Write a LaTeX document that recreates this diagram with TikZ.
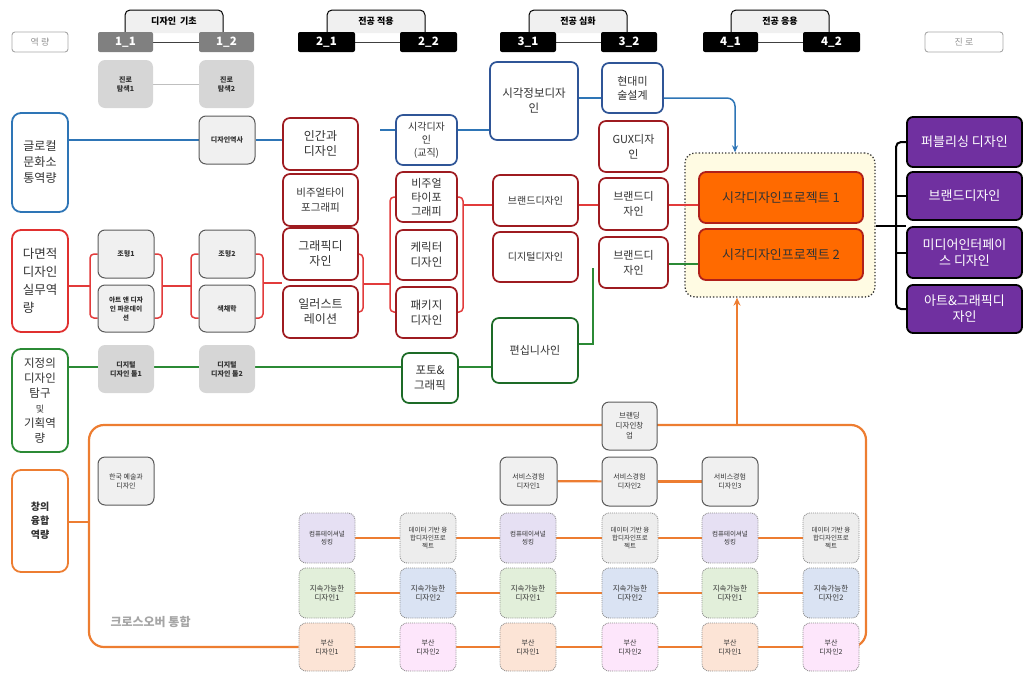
\documentclass[tikz,border=0pt]{standalone}
\usepackage{fontspec}
\setmainfont{Noto Sans CJK KR}
\usetikzlibrary{arrows.meta}
\pgfdeclarelayer{back}
\pgfdeclarelayer{bg}
\pgfsetlayers{back,bg,main}
\definecolor{txt}{HTML}{333333}
\definecolor{gfill}{HTML}{F0F0F0}
\definecolor{gdark}{HTML}{5A5A5A}
\definecolor{gmid}{HTML}{D6D6D6}
\definecolor{dred}{HTML}{9E1B20}
\definecolor{rline}{HTML}{E23B3B}
\definecolor{mred}{HTML}{E0302F}
\definecolor{bline}{HTML}{2E75B6}
\definecolor{dblue}{HTML}{2F5597}
\definecolor{gline}{HTML}{2B8A35}
\definecolor{dgreen}{HTML}{1D6B27}
\definecolor{oline}{HTML}{ED7D31}
\definecolor{projfill}{HTML}{FF6A00}
\definecolor{projdraw}{HTML}{B0201A}
\definecolor{areafill}{HTML}{FFFBE3}
\definecolor{purp}{HTML}{7030A0}
\definecolor{clav}{HTML}{E6E0F3}
\definecolor{cgray}{HTML}{EDEDED}
\definecolor{cgreen}{HTML}{E2EFDA}
\definecolor{cblue}{HTML}{DAE3F3}
\definecolor{cpeach}{HTML}{FCE4D6}
\definecolor{cpink}{HTML}{FDE6FB}
\definecolor{capgray}{HTML}{A6A6A6}
\newcommand\mkbox[7]{\node[#6, minimum width={#4-#2}, minimum height={#5-#3}] (#1) at ({(#2+#4)/2},{(#3+#5)/2}) {#7};}
\newcommand\fs[2]{\fontsize{#1}{#2}\selectfont}
\begin{document}
\begin{tikzpicture}[x=1pt,y=-1pt,
  bx/.style={rectangle, inner sep=0.5pt, align=center, text=txt},
  capbox/.style={bx, draw=capgray, line width=0.9, rounded corners=3, text=capgray!90!black, font=\fs{9}{10}},
  semg/.style={bx, fill=#1, rounded corners=2, text=white, font=\fs{11.5}{12}\bfseries},
  tabs/.style={draw=black, line width=1, fill=gfill, rounded corners=5},
  tabt/.style={font=\fs{9}{11}\bfseries, text=black},
  hdr/.style={draw=black!75, line width=1},
  comp/.style={bx, draw=#1, line width=1.8, fill=white, rounded corners=9, font=\fs{12}{16}},
  sg/.style={bx, fill=gfill, draw=gdark, line width=1, rounded corners=7, font=\fs{7}{9}\bfseries},
  sd/.style={bx, fill=gmid, rounded corners=7, font=\fs{7}{9}\bfseries},
  rb/.style={bx, draw=dred, line width=1.7, fill=white, rounded corners=7, font=\fs{11}{14}},
  bb/.style={rb, draw=dblue},
  gb/.style={rb, draw=dgreen},
  pj/.style={bx, fill=projfill, draw=projdraw, line width=1.8, rounded corners=7, font=\fs{13}{15}, text=black!80},
  pu/.style={bx, fill=purp, draw=black, line width=1.8, rounded corners=6, font=\fs{13}{16}, text=white},
  dg/.style={bx, fill=#1, draw=black!45, densely dotted, line width=0.9, rounded corners=7, font=\fs{6.5}{8.2}},
  og/.style={bx, fill=gfill, draw=gdark, line width=1, rounded corners=7, font=\fs{7}{9}},
  areast/.style={bx, fill=areafill, draw=black!80, dotted, line width=1.3, rounded corners=10},
  rl/.style={draw=rline, line width=1.5},
  bl/.style={draw=bline, line width=1.5},
  gl/.style={draw=gline, line width=1.5},
  ol/.style={draw=oline, line width=2.2},
  kl/.style={draw=black, line width=2}]
\useasboundingbox (0,0) rectangle (1024,672);

% ---------- header ----------
\draw[tabs] (125,33) -- (125,10) -- (223,10) -- (223,33);
\draw[tabs] (327,33) -- (327,10) -- (425,10) -- (425,33);
\draw[tabs] (529,33) -- (529,10) -- (627,10) -- (627,33);
\draw[tabs] (731,33) -- (731,10) -- (829,10) -- (829,33);
\node[tabt] (tabA) at (174,21) {디자인\ \ 기초};
\node[tabt] (tabB) at (376,21) {전공 적용};
\node[tabt] (tabC) at (578,21) {전공 심화};
\node[tabt] (tabD) at (780,21) {전공 응용};
\mkbox{capL}{12}{32}{68}{52}{capbox}{역 량}
\mkbox{capR}{925}{32}{1003}{52}{capbox}{진 로}
\mkbox{s11}{98}{32}{153}{52}{semg=black!50}{1\_1}
\mkbox{s12}{199}{32}{254}{52}{semg=black!50}{1\_2}
\mkbox{s21}{298}{32}{355}{52}{semg=black}{2\_1}
\mkbox{s22}{400}{32}{457}{52}{semg=black}{2\_2}
\mkbox{s31}{500}{32}{556}{52}{semg=black}{3\_1}
\mkbox{s32}{601}{32}{657}{52}{semg=black}{3\_2}
\mkbox{s41}{703}{32}{758}{52}{semg=black}{4\_1}
\mkbox{s42}{803}{32}{860}{52}{semg=black}{4\_2}

% ---------- competencies ----------
\mkbox{glocal}{12}{113}{68}{212}{comp=bline}{글로컬\\문화소\\통역량}
\mkbox{multi}{12}{230}{68}{332}{comp=mred, align=left, font=\fs{12.5}{18}}{다면적\\디자인\\실무역\\량}
\mkbox{explore}{12}{349}{68}{452}{comp=gline, font=\fs{11.5}{15}}{지정의\\디자인\\탐구\\{\fs{9}{15}및}\\기획역\\량}
\mkbox{creative}{12}{470}{68}{572}{comp=oline, font=\fs{10}{14}\bfseries}{창의\\융합\\역량}

% ---------- semester 1 ----------
\mkbox{tam1}{98}{60}{153}{108}{sd}{진로\\탐색1}
\mkbox{tam2}{199}{60}{254}{108}{sd}{진로\\탐색2}
\mkbox{hist}{199}{116}{255}{164}{sg}{디자인역사}
\mkbox{jh1}{98}{230}{154}{278}{sg}{조형1}
\mkbox{art}{98}{285}{154}{332}{sg, font=\fs{6.7}{9}\bfseries}{아트 앤 디자\\인 파운데이\\션}
\mkbox{jh2}{199}{230}{255}{278}{sg}{조형2}
\mkbox{color}{199}{285}{255}{332}{sg}{색채학}
\mkbox{tool1}{98}{345}{154}{393}{sd}{디지털\\디자인 툴1}
\mkbox{tool2}{199}{345}{255}{393}{sd}{디지털\\디자인 툴2}

% ---------- semester 2 ----------
\mkbox{human}{283}{118}{358}{170}{rb, font=\fs{12}{15}}{인간과\\디자인}
\mkbox{vtypo1}{283}{174}{358}{226}{rb, font=\fs{10.5}{15}}{비주얼타이\\포그래피}
\mkbox{graphic}{283}{228}{358}{280}{rb, font=\fs{12}{15}}{그래픽디\\자인}
\mkbox{illust}{283}{286}{358}{338}{rb, font=\fs{12}{15}}{일러스트\\레이션}
\mkbox{vdt}{396}{115}{457}{165}{bb, font=\fs{10}{13}}{시각디자\\인\\(교직)}
\mkbox{vtypo2}{396}{172}{457}{222}{rb, font=\fs{11}{14}}{비주얼\\타이포\\그래피}
\mkbox{char}{396}{230}{457}{280}{rb, font=\fs{11.5}{15}}{케릭터\\디자인}
\mkbox{pkg}{396}{287}{457}{338}{rb, font=\fs{11.5}{15}}{패키지\\디자인}
\mkbox{photo}{402}{353}{458}{403}{gb, font=\fs{11.5}{15}}{포토\&\\그래픽}

% ---------- semester 3 ----------
\mkbox{vinfo}{490}{62}{578}{140}{bb, font=\fs{11.5}{15}}{시각정보디자\\인}
\mkbox{brand1}{493}{175}{578}{226}{rb, font=\fs{10}{13}}{브랜드디자인}
\mkbox{digital}{493}{232}{578}{282}{rb, font=\fs{10}{13}}{디지털디자인}
\mkbox{edit}{492}{318}{578}{383}{gb, font=\fs{11}{14}}{편십니사인}
\mkbox{modern}{602}{63}{663}{113}{bb, font=\fs{11}{14}}{현대미\\술설계}
\mkbox{gux}{599}{121}{668}{172}{rb, font=\fs{11}{15}}{GUX디자\\인}
\mkbox{brand2}{599}{178}{668}{230}{rb, font=\fs{11}{15}}{브랜드디\\자인}
\mkbox{brand3}{599}{237}{668}{288}{rb, font=\fs{11}{15}}{브랜드디\\자인}

% ---------- projects ----------
\begin{pgfonlayer}{back}
\mkbox{area}{685}{153}{875}{297}{areast}{}
\end{pgfonlayer}
\mkbox{p1}{699}{172}{863}{223}{pj}{시각디자인프로젝트 1}
\mkbox{p2}{699}{229}{863}{280}{pj}{시각디자인프로젝트 2}

% ---------- careers ----------
\mkbox{pub}{907}{117}{1022}{167}{pu}{퍼블리싱 디자인}
\mkbox{brandc}{907}{172}{1022}{220}{pu}{브랜드디자인}
\mkbox{media}{907}{227}{1022}{278}{pu}{미디어인터페이\\스 디자인}
\mkbox{artg}{907}{285}{1022}{333}{pu}{아트\&그래픽디\\자인}

% ---------- crossover ----------
\mkbox{kart}{98}{457}{154}{505}{og}{한국 예술과\\디자인}
\mkbox{branding}{602}{402}{657}{450}{og, font=\fs{7.5}{10}}{브랜딩\\디자인창\\업}
\mkbox{svc1}{500}{457}{557}{505}{og}{서비스경험\\디자인1}
\mkbox{svc2}{602}{457}{657}{506}{og}{서비스경험\\디자인2}
\mkbox{svc3}{702}{457}{758}{506}{og}{서비스경험\\디자인3}
\node[font=\fs{12}{14}\bfseries, text=capgray, anchor=west] (xover) at (107,622) {크로스오버 통합};

\mkbox{g11}{299}{513}{355}{563}{dg=clav}{컴퓨테이셔널\\씽킹}
\mkbox{g12}{400}{513}{456}{563}{dg=cgray}{데이터 기반 융\\합디자인프로\\젝트}
\mkbox{g13}{500}{513}{556}{563}{dg=clav}{컴퓨테이셔널\\씽킹}
\mkbox{g14}{602}{513}{658}{563}{dg=cgray}{데이터 기반 융\\합디자인프로\\젝트}
\mkbox{g15}{702}{513}{758}{563}{dg=clav}{컴퓨테이셔널\\씽킹}
\mkbox{g16}{803}{513}{859}{563}{dg=cgray}{데이터 기반 융\\합디자인프로\\젝트}
\mkbox{g21}{299}{568}{355}{618}{dg=cgreen, font=\fs{7.5}{9.5}}{지속가능한\\디자인1}
\mkbox{g22}{400}{568}{456}{618}{dg=cblue, font=\fs{7.5}{9.5}}{지속가능한\\디자인2}
\mkbox{g23}{500}{568}{556}{618}{dg=cgreen, font=\fs{7.5}{9.5}}{지속가능한\\디자인1}
\mkbox{g24}{602}{568}{658}{618}{dg=cblue, font=\fs{7.5}{9.5}}{지속가능한\\디자인2}
\mkbox{g25}{702}{568}{758}{618}{dg=cgreen, font=\fs{7.5}{9.5}}{지속가능한\\디자인1}
\mkbox{g26}{803}{568}{859}{618}{dg=cblue, font=\fs{7.5}{9.5}}{지속가능한\\디자인2}
\mkbox{g31}{299}{623}{355}{671}{dg=cpeach, font=\fs{7}{9}}{부산\\디자인1}
\mkbox{g32}{400}{623}{456}{671}{dg=cpink, font=\fs{7}{9}}{부산\\디자인2}
\mkbox{g33}{500}{623}{556}{671}{dg=cpeach, font=\fs{7}{9}}{부산\\디자인1}
\mkbox{g34}{602}{623}{658}{671}{dg=cpink, font=\fs{7}{9}}{부산\\디자인2}
\mkbox{g35}{702}{623}{758}{671}{dg=cpeach, font=\fs{7}{9}}{부산\\디자인1}
\mkbox{g36}{803}{623}{859}{671}{dg=cpink, font=\fs{7}{9}}{부산\\디자인2}

% ---------- connectors ----------
\begin{pgfonlayer}{bg}
\draw[hdr] (s11) -- (s12);
\draw[hdr] (s21) -- (s22);
\draw[hdr] (s31) -- (s32);
\draw[hdr] (s41) -- (s42);
\draw[draw=black!25, line width=1] (tam1) -- (tam2);

% blue
\draw[bl] (glocal.east |- hist.west) -- (hist.west);
\draw[bl] (hist.east) -- (human.west |- hist.east);
\coordinate (bstub) at (380,130);
\draw[bl] (bstub) -- (vdt.west |- bstub);
\draw[bl] (vdt.east |- bstub) -- (vinfo.west |- bstub);
\coordinate (yb2) at (0,98);
\draw[bl] (vinfo.east |- yb2) -- (modern.west |- yb2);
\coordinate (bturn) at (735,98);
\draw[bl, rounded corners=8, -{Stealth[length=7pt,width=6pt]}] (modern.east |- yb2) -- (bturn) -- (bturn |- area.north);

% red
\coordinate (yr1) at (0,286);
\coordinate (rb1) at (90,286);
\draw[rl] (multi.east |- yr1) -- (rb1);
\draw[rl, rounded corners=4] (jh1.west) -- (90,254) -- (90,318) -- (art.west |- 0,318);
\draw[rl, rounded corners=4] (jh1.east) -- (162,254) -- (162,318) -- (art.east |- 0,318);
\draw[rl] (162,286) -- (191,286);
\draw[rl, rounded corners=4] (jh2.west) -- (191,254) -- (191,318) -- (color.west |- 0,318);
\draw[rl, rounded corners=4] (jh2.east) -- (263,254) -- (263,318) -- (color.east |- 0,318);
\coordinate (yr2) at (0,283);
\draw[rl] (263,283) -- (graphic.west |- yr2);
\draw[rl, rounded corners=4] (graphic.east) -- (363,254) -- (363,312) -- (illust.east |- 0,312);
\draw[rl] (363,284) -- (390,284);
\draw[rl, rounded corners=4] (vtypo2.west) -- (390,197) -- (390,312) -- (pkg.west |- 0,312);
\draw[rl, rounded corners=4] (vtypo2.east) -- (463,197) -- (463,312) -- (pkg.east |- 0,312);
\coordinate (yr) at (0,205);
\draw[rl] (463,205) -- (brand1.west |- yr);
\draw[rl] (brand1.east |- yr) -- (brand2.west |- yr);
\draw[rl] (brand2.east |- yr) -- (p1.west |- yr);

% green
\coordinate (yg) at (0,367);
\draw[gl] (explore.east |- yg) -- (tool1.west |- yg);
\draw[gl] (tool1.east |- yg) -- (tool2.west |- yg);
\draw[gl] (tool2.east |- yg) -- (photo.west |- yg);
\draw[gl] (photo.east |- yg) -- (edit.west |- yg);
\coordinate (yg2) at (0,344);
\coordinate (gtop) at (593,268);
\draw[gl] (edit.east |- yg2) -| (gtop);
\coordinate (yg3) at (0,264);
\draw[gl] (brand3.east |- yg3) -- (p2.west |- yg3);

% black
\coordinate (yk) at (0,226);
\draw[kl] (area.east |- yk) -- (media.west |- yk);
\draw[kl, rounded corners=5] (pub.west) -- (896,142) -- (896,309) -- (artg.west);
\draw[kl] (brandc.west) -- (896,196);
\draw[kl] (media.west) -- (896,252.5);

% orange
\coordinate (fl) at (89,522);
\draw[ol] (creative.east |- fl) -- (fl);
\draw[ol, rounded corners=15] (g31.west) -- (89,647) -- (89,425) -- (866,425) -- (866,647) -- (g36.east);
\coordinate (oa) at (737,425);
\draw[ol, -{Stealth[length=8pt,width=7pt]}] (oa) -- (oa |- area.south);
\draw[ol] (svc1) -- (svc2);
\draw[ol] (svc2) -- (svc3);
\draw[ol] (g11) -- (g12) -- (g13) -- (g14) -- (g15) -- (g16);
\draw[ol] (g21) -- (g22) -- (g23) -- (g24) -- (g25) -- (g26);
\draw[ol] (g31) -- (g32) -- (g33) -- (g34) -- (g35) -- (g36);
\end{pgfonlayer}
\end{tikzpicture}
\end{document}
